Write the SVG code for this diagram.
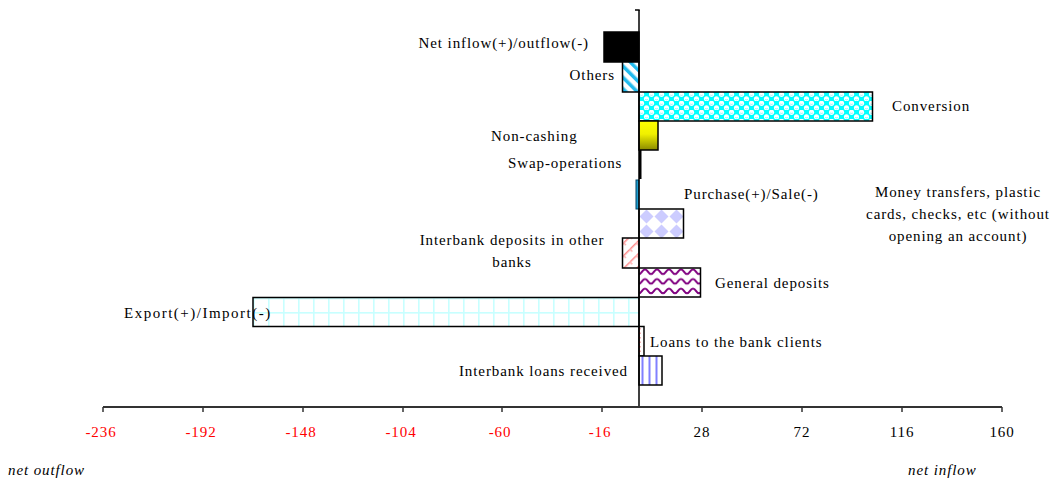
<svg xmlns="http://www.w3.org/2000/svg" width="1055" height="480" viewBox="0 0 1055 480">
<style>
text{font-family:"Liberation Serif","Times New Roman",serif;font-size:15px;letter-spacing:0.9px;fill:#000}
.neg{fill:#ff0000}
.it{font-style:italic}
.bar{stroke:#000;stroke-width:1.5}
.tick{stroke:#333;stroke-width:1.5}
</style>
<defs>
<pattern id="pOthers" width="8" height="8" patternUnits="userSpaceOnUse" patternTransform="rotate(-45)">
<rect width="8" height="8" fill="#fff"/><rect x="0" width="3.5" height="8" fill="#22bbee"/>
</pattern>
<pattern id="pConv" width="10" height="9" patternUnits="userSpaceOnUse" x="639" y="92">
<rect width="10" height="9" fill="#00ffff"/>
<circle cx="2.5" cy="2.3" r="2.6" fill="#fff"/><circle cx="7.5" cy="6.8" r="2.6" fill="#fff"/>
<path d="M1.2,3 Q2.5,3.8 3.8,3" stroke="#66eeff" stroke-width="0.8" fill="none"/>
<path d="M6.2,7.5 Q7.5,8.3 8.8,7.5" stroke="#66eeff" stroke-width="0.8" fill="none"/>
</pattern>
<linearGradient id="gYel" x1="0" y1="0" x2="0" y2="1">
<stop offset="0" stop-color="#ffff00"/><stop offset="0.45" stop-color="#f0f000"/><stop offset="1" stop-color="#8a8a00"/>
</linearGradient>
<pattern id="pDiam" width="15" height="15" patternUnits="userSpaceOnUse" x="639" y="209">
<rect width="15" height="15" fill="#fff"/><polygon points="7.5,0.5 14.5,7.5 7.5,14.5 0.5,7.5" fill="#ccccff"/>
</pattern>
<pattern id="pPink" width="9" height="9" patternUnits="userSpaceOnUse" patternTransform="rotate(45)">
<rect width="9" height="9" fill="#fff"/><rect x="0" width="1.5" height="9" fill="#ff8c8c"/><rect x="0" y="0" width="4" height="1.5" fill="#ffb0b0"/>
</pattern>
<pattern id="pWave" width="12" height="9.6" patternUnits="userSpaceOnUse" x="639" y="268">
<rect width="12" height="9.6" fill="#fff"/>
<path d="M0,6 C3,6 3,1.5 6,1.5 C9,1.5 9,6 12,6" stroke="#800080" stroke-width="2" fill="none"/>
</pattern>
<pattern id="pGrid" width="15" height="14.5" patternUnits="userSpaceOnUse" x="253" y="297.5">
<rect width="15" height="14.5" fill="#fff"/>
<rect x="0" y="0" width="1.6" height="14.5" fill="#c8ffff"/><rect x="0" y="0" width="15" height="1.6" fill="#c8ffff"/>
</pattern>
<pattern id="pVstripe" width="7" height="10" patternUnits="userSpaceOnUse" x="639" y="356">
<rect width="7" height="10" fill="#fff"/><rect x="2.5" width="2" height="10" fill="#8080ff"/>
</pattern>
</defs>

<g id="bar-net">
<rect class="bar" x="604" y="32" width="35" height="30" fill="#000"/>
<text x="589" y="48" text-anchor="end">Net inflow(+)/outflow(-)</text>
</g>
<g id="bar-others">
<rect class="bar" x="622.5" y="62" width="16.5" height="30" fill="url(#pOthers)"/>
<text x="615" y="80" text-anchor="end">Others</text>
</g>
<g id="bar-conversion">
<rect class="bar" x="639" y="92" width="233.5" height="29" fill="url(#pConv)"/>
<text x="892" y="111">Conversion</text>
</g>
<g id="bar-noncashing">
<rect class="bar" x="639" y="121" width="19" height="29" fill="url(#gYel)"/>
<text x="491" y="141">Non-cashing</text>
</g>
<g id="bar-swap">
<rect x="639" y="150" width="2.5" height="29" fill="#000"/>
<text x="508" y="168">Swap-operations</text>
</g>
<g id="bar-purchase">
<rect x="636" y="180" width="3" height="29" fill="#1e9ed0" stroke="#004466" stroke-width="1"/>
<text x="684" y="199">Purchase(+)/Sale(-)</text>
</g>
<g id="bar-money">
<rect class="bar" x="639" y="209" width="44.5" height="29" fill="url(#pDiam)"/>
<text x="958" y="197" text-anchor="middle">Money transfers, plastic</text>
<text x="958" y="219" text-anchor="middle">cards, checks, etc (without</text>
<text x="958" y="241" text-anchor="middle">opening an account)</text>
</g>
<g id="bar-ibdeposits">
<rect class="bar" x="622.5" y="238" width="16.5" height="30" fill="url(#pPink)"/>
<text x="512" y="245" text-anchor="middle">Interbank deposits in other</text>
<text x="512" y="267" text-anchor="middle">banks</text>
</g>
<g id="bar-general">
<rect class="bar" x="639" y="268" width="61.5" height="29" fill="url(#pWave)"/>
<text x="715" y="288">General deposits</text>
</g>
<g id="bar-export">
<rect class="bar" x="253" y="297.5" width="386" height="29" fill="url(#pGrid)"/>
<text x="124" y="318" style="letter-spacing:1.5px">Export(+)/Import(-)</text>
</g>
<g id="bar-loans">
<rect class="bar" x="639" y="326.5" width="5" height="29.5" fill="#fff"/>
<line x1="639.8" y1="328" x2="639.8" y2="355" stroke="#cc0000" stroke-width="1" stroke-dasharray="1.5,3"/>
<text x="650" y="347">Loans to the bank clients</text>
</g>
<g id="bar-ibloans">
<rect class="bar" x="639" y="356" width="23" height="29" fill="url(#pVstripe)"/>
<text x="628" y="376" text-anchor="end">Interbank loans received</text>
</g>

<g id="axes">
<line x1="639" y1="10" x2="639" y2="407" stroke="#000" stroke-width="1.5"/>
<line x1="635" y1="10" x2="639.7" y2="10" stroke="#000" stroke-width="1.5"/>
<line x1="103" y1="407" x2="1002" y2="407" stroke="#333" stroke-width="2"/>
<g class="tick">
<line x1="103" y1="407" x2="103" y2="412"/><line x1="203" y1="407" x2="203" y2="412"/>
<line x1="303" y1="407" x2="303" y2="412"/><line x1="403" y1="407" x2="403" y2="412"/>
<line x1="502" y1="407" x2="502" y2="412"/><line x1="602" y1="407" x2="602" y2="412"/>
<line x1="702" y1="407" x2="702" y2="412"/><line x1="802" y1="407" x2="802" y2="412"/>
<line x1="902" y1="407" x2="902" y2="412"/><line x1="1002" y1="407" x2="1002" y2="412"/>
</g>
</g>
<g id="tick-labels" text-anchor="middle">
<text class="neg" x="101" y="437">-236</text>
<text class="neg" x="201" y="437">-192</text>
<text class="neg" x="301" y="437">-148</text>
<text class="neg" x="401" y="437">-104</text>
<text class="neg" x="500" y="437">-60</text>
<text class="neg" x="600" y="437">-16</text>
<text x="702" y="437">28</text>
<text x="802" y="437">72</text>
<text x="902" y="437">116</text>
<text x="1002" y="437">160</text>
</g>
<text class="it" x="8" y="475">net outflow</text>
<text class="it" x="908" y="475">net inflow</text>
</svg>
